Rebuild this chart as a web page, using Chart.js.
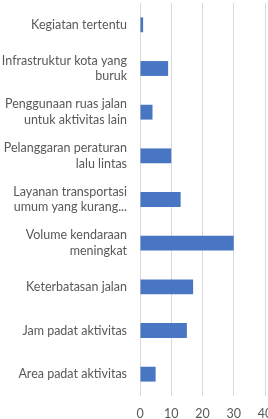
<!DOCTYPE html>
<html>
<head>
<meta charset="utf-8">
<script src="https://cdn.jsdelivr.net/npm/chart.js@4/dist/chart.umd.min.js"></script>
<style>
	html, body { margin: 0; padding: 0; background: #fff; overflow: hidden; }
	#wrap { position: relative; width: 268px; height: 419px; }
</style>
</head>
<body>
<div id="wrap"><canvas id="chart"></canvas></div>
<script>
// data
let categories = [
	['Kegiatan tertentu'],
	['Infrastruktur kota yang', 'buruk'],
	['Penggunaan ruas jalan', 'untuk aktivitas lain'],
	['Pelanggaran peraturan', 'lalu lintas'],
	['Layanan transportasi', 'umum yang kurang...'],
	['Volume kendaraan', 'meningkat'],
	['Keterbatasan jalan'],
	['Jam padat aktivitas'],
	['Area padat aktivitas']
];
let values = [1, 9, 4, 10, 13, 30, 17, 15, 5];
let x_ticks = [0, 10, 20, 30, 40];

let text_color = '#595959';
let font = {family: 'Lato', size: 12.5, lineHeight: 1.25};

let chart = new Chart(document.getElementById('chart'),
	{
		type: 'bar',
		data:
			{
				labels: categories,
				datasets: [
					{
						data: values,
						backgroundColor: '#4876c2',
						barPercentage: 0.34,
						categoryPercentage: 1
					}]
			},
		options:
			{
				indexAxis: 'y',
				responsive: true,
				maintainAspectRatio: false,
				animation: false,
				layout: {padding: {top: 3, left: 0, right: 3, bottom: 0}},
				plugins: {legend: {display: false}, tooltip: {enabled: false}},
				scales:
					{
						x:
							{
								min: x_ticks[0],
								max: x_ticks[x_ticks.length - 1],
								afterBuildTicks: function(scale)
									{
										scale.ticks = x_ticks.map(v => ({value: v}));
									},
								afterFit: function(scale)
									{
										// let the last label run off the edge, like the original
										scale.paddingLeft = 0;
										scale.paddingRight = 0;
										scale.height = 23;
									},
								grid: {color: '#d9d9d9', drawTicks: false},
								border: {display: false},
								ticks: {color: text_color, font: {family: 'Lato', size: 12.5}, padding: 10, maxRotation: 0}
							},
						y:
							{
								grid: {display: false},
								border: {display: false},
								// tick length (8) is still counted, so 8 + 5 = 13px gap
								ticks: {color: text_color, font: font, padding: 5, autoSkip: false},
								afterFit: function(scale)
									{
										scale.width = 140;
										scale.paddingTop = 0;
										scale.paddingBottom = 0;
									}
							}
					}
			}
	});
</script>
</body>
</html>
